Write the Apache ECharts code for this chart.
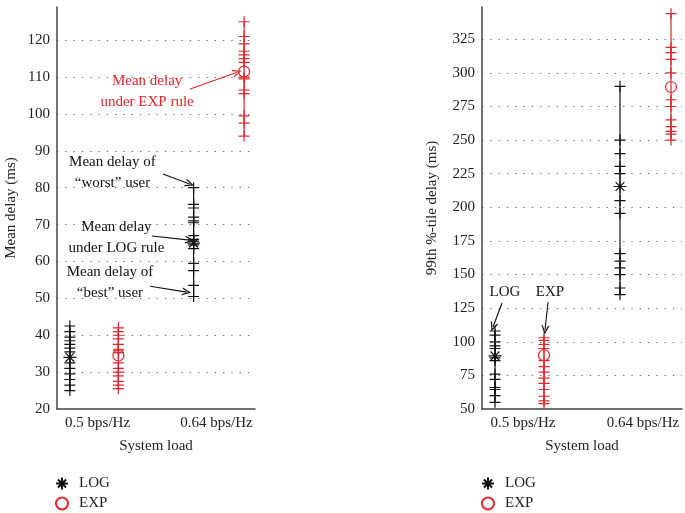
<!DOCTYPE html>
<html><head><meta charset="utf-8">
<script src="https://cdn.jsdelivr.net/npm/echarts@6/dist/echarts.min.js"></script>
<style>html,body{margin:0;padding:0;background:#fff}#c{width:685px;height:513px}</style>
</head><body><div id="c"></div>
<script>
// ---- data ----
const loadLabels = ['0.5 bps/Hz', '0.64 bps/Hz'];
// Mean delay (ms) of each user
const meanLog05 = [25, 26.5, 28, 29.5, 31, 32.5, 35.5, 36.5, 37.5, 38.5, 39.5, 41, 42.5];
const meanExp05 = [25.5, 26.5, 27.5, 29, 30, 31, 32.5, 35.3, 35.8, 36.2, 37.5, 39, 40, 41, 42];
const meanLog064 = [50.5, 53.5, 57.5, 59.5, 63.5, 64.5, 65.5, 66, 67, 70.5, 71, 72, 74.5, 75.5, 80];
const meanExp064 = [94, 97.5, 99.5, 105.5, 106.5, 109.5, 110, 114, 115, 116, 117, 119, 121, 125];
const meanLogAvg = [34, 65];
const meanExpAvg = [34.5, 111.5];
// 99th percentile delay (ms) of each user
const p99Log05 = [55, 60, 64.5, 66, 72, 76, 86, 88, 95, 97, 100, 105, 108];
const p99Exp05 = [54, 56, 59.5, 64.5, 69, 73, 77.5, 81.5, 86, 95, 98, 101, 103];
const p99Log064 = [135, 140, 150, 155, 160, 165.5, 195.5, 205, 225, 230.5, 240, 250, 290];
const p99Exp064 = [250, 254.5, 256.5, 260, 265, 275, 280, 300, 310, 315, 319, 344];
const p99LogAvg = [89.5, 215.5];
const p99ExpAvg = [90, 289.5];

// ---- layout constants (x positions on a 0..20 axis) ----
const labelPos = [4.1, 16.1];
const xLog = [1.3, 13.8];
const xExp = [6.2, 18.9];

const RED = '#e3262b';
const BLK = '#111';
const FONT = 'Liberation Serif';
const PLUS = 'path://M0,5L10,5M5,0L5,10';
const STAR = 'path://M0,5L10,5M5,0L5,10M1.6,1.6L8.4,8.4M1.6,8.4L8.4,1.6';
const ARROW = 'path://M0,10L5,0L10,10L8.4,10L5,3.2L1.6,10Z';

function pts(x, arr) { return arr.map(v => [x, v]); }

function clusterSeries(gi, x, arr, color) {
  return {
    type: 'line', xAxisIndex: gi, yAxisIndex: gi, silent: true,
    data: pts(x, arr),
    lineStyle: { color: color, width: 1.2 },
    symbol: PLUS, symbolSize: 11, showSymbol: true,
    itemStyle: { color: 'transparent', borderColor: color, borderWidth: 1.2 },
    z: 2
  };
}
function meanSeries(gi, name, xs, avg, symbol, color, size) {
  return {
    type: 'scatter', name: name, xAxisIndex: gi, yAxisIndex: gi, silent: true,
    data: xs.map((x, i) => [x, avg[i]]),
    symbol: symbol, symbolSize: size,
    itemStyle: { color: 'transparent', borderColor: color, borderWidth: 1.2, opacity: 1 },
    z: 5
  };
}
function arrows(list, color) {
  return {
    silent: true, animation: false,
    symbol: ['none', ARROW], symbolSize: [8, 9],
    label: { show: false },
    lineStyle: { color: color, type: 'solid', width: 1.1 },
    data: list.map(a => [{ coord: [a[0], a[1]] }, { coord: [a[2], a[3]] }])
  };
}
function notes(list, color) {
  return {
    silent: true, animation: false,
    symbol: 'circle', symbolSize: 0,
    label: { show: true, position: 'inside', color: color, fontFamily: FONT, fontSize: 15, lineHeight: 21, align: 'center' },
    data: list.map(n => ({ coord: [n[0], n[1]], value: 0, label: { formatter: n[2] } }))
  };
}

function xAxisCfg(gi) {
  return {
    type: 'value', gridIndex: gi, min: 0, max: 20,
    name: 'System load', nameLocation: 'middle', nameGap: 30,
    nameTextStyle: { fontFamily: FONT, fontSize: 15, color: '#222' },
    axisLine: { show: true, onZero: false, lineStyle: { color: '#444', width: 1.5 } },
    axisTick: { show: false },
    splitLine: { show: false },
    axisLabel: {
      customValues: labelPos, margin: 7,
      fontFamily: FONT, fontSize: 15, color: '#222',
      formatter: v => loadLabels[v < 10 ? 0 : 1]
    }
  };
}
function yAxisCfg(gi, name, min, max, interval, gap) {
  return {
    type: 'value', gridIndex: gi, min: min, max: max, interval: interval,
    name: name, nameLocation: 'middle', nameGap: gap,
    nameTextStyle: { fontFamily: FONT, fontSize: 15, color: '#222' },
    axisLine: { show: true, lineStyle: { color: '#444', width: 1.5 } },
    axisTick: { show: false },
    axisLabel: { fontFamily: FONT, fontSize: 15, color: '#222', margin: 7, showMaxLabel: false },
    splitLine: { show: true, showMaxLine: false, showMinLine: false, lineStyle: { color: '#666', type: [1.3, 7], width: 1 } }
  };
}

const s0 = [
  clusterSeries(0, xLog[0], meanLog05, BLK),
  clusterSeries(0, xExp[0], meanExp05, RED),
  clusterSeries(0, xLog[1], meanLog064, BLK),
  clusterSeries(0, xExp[1], meanExp064, RED),
  meanSeries(0, 'LOG', xLog, meanLogAvg, STAR, BLK, 13),
  meanSeries(0, 'EXP', xExp, meanExpAvg, 'circle', RED, 11)
];
s0[2].markLine = arrows([[10.7, 83.7, 13.4, 81.0], [9.6, 66.9, 13.4, 65.8], [9.4, 53.3, 13.1, 51.7]], BLK);
s0[2].markPoint = notes([[5.6, 84.2, 'Mean delay of\n\u201cworst\u201d user'], [6.0, 66.6, 'Mean delay\nunder LOG rule'], [5.35, 54.4, 'Mean delay of\n\u201cbest\u201d user']], BLK);
s0[3].markLine = arrows([[13.4, 106.7, 18.2, 111.3]], RED);
s0[3].markPoint = notes([[9.1, 106.2, 'Mean delay\nunder EXP rule']], RED);

const s1 = [
  clusterSeries(1, xLog[0], p99Log05, BLK),
  clusterSeries(1, xExp[0], p99Exp05, RED),
  clusterSeries(1, xLog[1], p99Log064, BLK),
  clusterSeries(1, xExp[1], p99Exp064, RED),
  meanSeries(1, 'LOG', xLog, p99LogAvg, STAR, BLK, 13),
  meanSeries(1, 'EXP', xExp, p99ExpAvg, 'circle', RED, 11)
];
s1[0].markLine = arrows([[2.0, 128.8, 1.1, 111], [6.6, 129.6, 6.3, 108.8]], BLK);
s1[0].markPoint = notes([[2.3, 137, 'LOG'], [6.8, 137, 'EXP']], BLK);

const legendCfg = (left) => ({
  orient: 'vertical', left: left, top: 476, padding: 0, itemWidth: 24, itemHeight: 12, itemGap: 5,
  height: 36,
  selectedMode: false,
  textStyle: { fontFamily: FONT, fontSize: 15, color: '#222' },
  data: ['LOG', 'EXP']
});

const chart = echarts.init(document.getElementById('c'), null, { renderer: 'canvas' });
chart.setOption({
  animation: false,
  backgroundColor: '#fff',
  grid: [
    { left: 57, width: 198, top: 7, height: 402 },
    { left: 482, width: 200, top: 7, height: 402 }
  ],
  xAxis: [xAxisCfg(0), xAxisCfg(1)],
  yAxis: [
    yAxisCfg(0, 'Mean delay (ms)', 20, 129, 10, 38),
    yAxisCfg(1, '99th %-tile delay (ms)', 50, 349, 25, 42)
  ],
  legend: [legendCfg(55), legendCfg(481)],
  series: s0.concat(s1)
});
</script></body></html>
